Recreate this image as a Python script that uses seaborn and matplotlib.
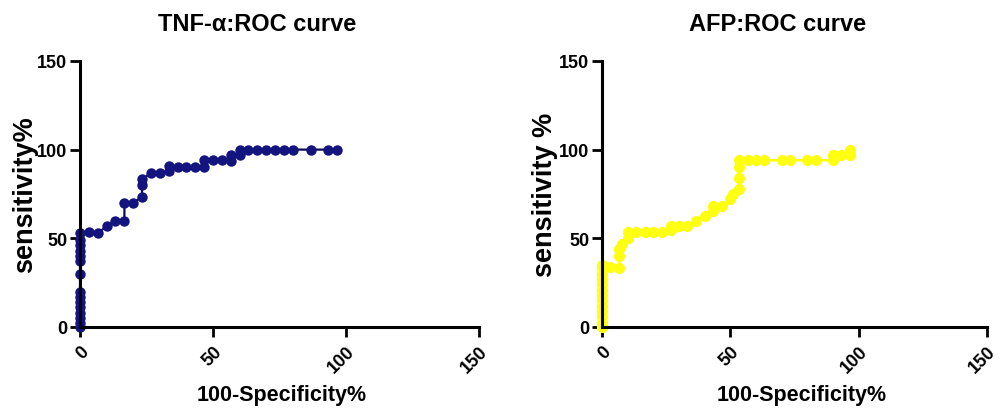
import matplotlib
matplotlib.use("Agg")
import matplotlib.pyplot as plt
import seaborn as sns
import pandas as pd

# TNF-alpha ROC curve points (100-Specificity%, Sensitivity%)
tnf_x = [0, 0, 0, 0, 0, 0, 0, 0, 0, 0, 0, 0, 0, 0, 0,
         3.3, 6.7, 10, 13.3, 16.7, 16.7, 20, 23.3, 23.3, 23.3, 26.7, 30, 33.3, 33.3,
         36.7, 40, 43.3, 46.7, 46.7, 50, 53.3, 56.7, 56.7, 60, 60, 63.3, 66.7, 70,
         73.3, 76.7, 80, 86.7, 93.3, 96.7]
tnf_y = [0, 2.5, 5, 8, 11, 14, 17, 20, 30, 37, 40, 43, 46, 49, 53,
         53.3, 53, 56.7, 60, 60, 70, 70, 73.3, 80, 83.3, 86.7, 86.7, 88, 90.7,
         90, 90, 90, 90, 94, 94, 94, 93.3, 96.7, 96.7, 100, 100, 100, 100,
         100, 100, 100, 100, 100, 100]

# AFP ROC curve points
afp_x = [0, 0, 0, 0, 0, 0, 0, 0, 0, 0, 0, 0, 0,
         3.3, 6.7, 6.7, 6.7, 7.8, 10, 10, 13.3, 16.7, 20, 23.3, 26.7, 26.7, 30, 33.3,
         36.7, 40, 43.3, 43.3, 46.7, 50, 51, 53.3, 53.3, 53.3, 53.3, 56.7, 60, 63.3,
         70, 73.3, 80, 83.3, 90, 90, 93.3, 96.7, 96.7]
afp_y = [0, 3, 6, 9, 12, 15, 18, 21, 24, 27, 30, 33, 35,
         34, 33, 40, 44, 47, 50, 53.3, 53.3, 53.3, 53.3, 53.3, 54.5, 57, 57, 57,
         60, 62.5, 65.5, 68, 68, 72, 75, 78, 84, 90, 94, 94, 94, 94,
         94, 94, 94, 94, 94, 97, 97, 97, 100]

ticks = [0, 50, 100, 150]
titles = ["TNF-\u03b1:ROC curve", "AFP:ROC curve"]
ylabels = ["sensitivity%", "sensitivity %"]
xlabel = "100-Specificity%"

sns.set_style("ticks")
plt.rcParams["font.family"] = ["Liberation Sans", "DejaVu Sans"]
plt.rcParams["font.weight"] = "bold"
plt.rcParams["text.color"] = "black"
plt.rcParams["axes.labelcolor"] = "black"
plt.rcParams["xtick.color"] = "black"
plt.rcParams["ytick.color"] = "black"

fig = plt.figure(figsize=(10, 4.1), dpi=100)
ax1 = fig.add_axes([0.080, 0.200, 0.399, 0.649])
ax2 = fig.add_axes([0.602, 0.200, 0.385, 0.649])

df1 = pd.DataFrame({"x": tnf_x, "y": tnf_y})
df2 = pd.DataFrame({"x": afp_x, "y": afp_y})

sns.lineplot(data=df1, x="x", y="y", ax=ax1, estimator=None, sort=False,
             color="#101078", marker="o", markersize=7.5, markeredgewidth=0,
             linewidth=1.6, clip_on=False)
sns.lineplot(data=df2, x="x", y="y", ax=ax2, estimator=None, sort=False,
             color="#ffff10", marker="o", markersize=8, markeredgewidth=0,
             linewidth=1.8, clip_on=False)
ax1.lines[0].set_color("#0c0c50")
ax1.lines[0].set_markerfacecolor("#14147e")

tx = [0.445, 0.457]
ylx = [-0.138, -0.148]
xlx = [0.506, 0.518]
for i, ax in enumerate([ax1, ax2]):
    ax.set_xlim(0, 150)
    ax.set_ylim(0, 150)
    ax.set_xticks(ticks)
    ax.set_yticks(ticks)
    ax.set_xticklabels([str(t) for t in ticks], rotation=45, ha="right",
                       rotation_mode="anchor", fontsize=13, fontweight="bold")
    ax.set_yticklabels([str(t) for t in ticks], fontsize=13, fontweight="bold")
    ax.tick_params(axis="both", direction="out", length=7, width=2, pad=2, colors="black")
    ax.tick_params(axis="x", pad=4)
    for s in ["left", "bottom"]:
        ax.spines[s].set_linewidth(2.2)
        ax.spines[s].set_color("black")
    for s in ["top", "right"]:
        ax.spines[s].set_visible(False)
    ax.text(tx[i], 1.139, titles[i], transform=ax.transAxes, ha="center",
            va="center", fontsize=17, fontweight="bold", color="black")
    ax.set_xlabel(xlabel, fontsize=15.5, fontweight="bold", va="center")
    ax.xaxis.set_label_coords(xlx[i], -0.252)
    ax.set_ylabel(ylabels[i], fontsize=19.5, fontweight="bold", va="center")
    ax.yaxis.set_label_coords(ylx[i], 0.5)

fig.savefig("out.png", dpi=100)
